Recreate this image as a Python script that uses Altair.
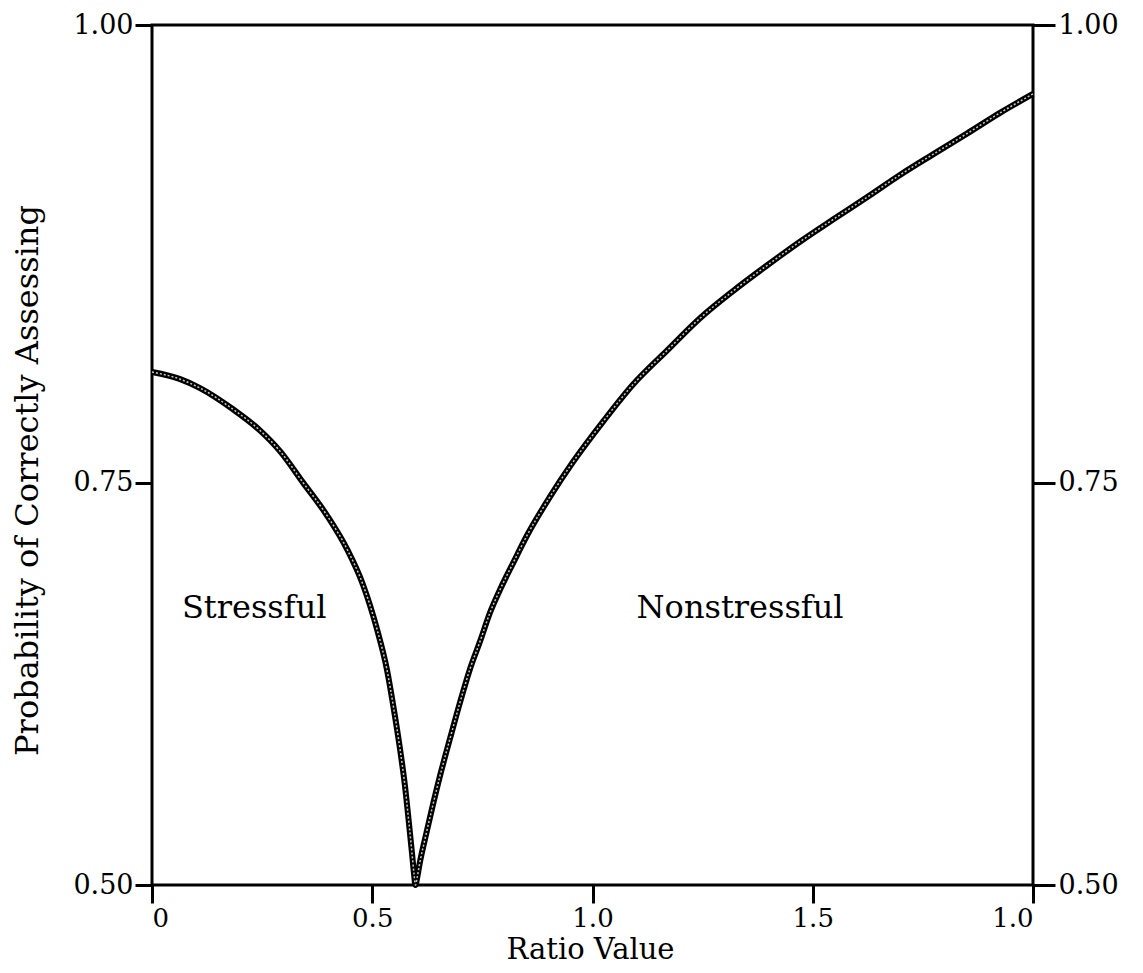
import altair as alt
import pandas as pd

# ---- data ----
ratio = [0.000, 0.064, 0.109, 0.184, 0.245, 0.291, 0.343, 0.397, 0.443, 0.479,
         0.511, 0.533, 0.549, 0.563, 0.574, 0.583, 0.590, 0.595, 0.598,
         0.602, 0.608, 0.620, 0.636, 0.654, 0.677, 0.699, 0.722, 0.745, 0.767,
         0.790, 0.820, 0.851, 0.904, 0.956, 1.024, 1.092, 1.169, 1.244, 1.319,
         1.396, 1.471, 1.546, 1.623, 1.698, 1.773, 1.850, 1.925, 2.000]
prob = [0.813, 0.809, 0.804, 0.792, 0.780, 0.768, 0.750, 0.731, 0.711, 0.690,
        0.663, 0.639, 0.614, 0.589, 0.566, 0.542, 0.522, 0.507, 0.500,
        0.505, 0.515, 0.531, 0.551, 0.572, 0.596, 0.618, 0.639, 0.656, 0.673,
        0.687, 0.703, 0.719, 0.742, 0.762, 0.785, 0.806, 0.825, 0.843, 0.858,
        0.872, 0.885, 0.897, 0.909, 0.921, 0.932, 0.943, 0.954, 0.964]

x_ticks = [0, 0.5, 1.0, 1.5, 2.0]
x_tick_labels = ["0", "0.5", "1.0", "1.5", "1.0"]
y_ticks = [0.5, 0.75, 1.0]

ann_text = ["Stressful", "Nonstressful"]
ann_x = [0.232, 1.335]
ann_y = [0.670, 0.670]

curve = pd.DataFrame({"ratio": ratio, "prob": prob})
ann = pd.DataFrame({"label": ann_text, "ratio": ann_x, "prob": ann_y})

FONT = "DejaVu Serif"

label_expr = "[{}][indexof([{}], datum.value)]".format(
    ",".join("'%s'" % s for s in x_tick_labels),
    ",".join(str(v) for v in x_ticks),
)

yscale = alt.Scale(type="pow", exponent=1.38, domain=[0.5, 1.0], nice=False, zero=False)
xscale = alt.Scale(domain=[0, 2], nice=False, zero=False)

x_enc = alt.X(
    "ratio:Q",
    scale=xscale,
    axis=alt.Axis(
        values=x_ticks, labelExpr=label_expr, orient="bottom",
        tickSize=18, tickWidth=3, tickColor="black", domain=False, grid=False,
        labelFont=FONT, labelFontSize=26, labelColor="black", labelPadding=2,
        title="Ratio Value", titleFont=FONT, titleFontSize=29, titleFontWeight="normal",
        titleColor="black", titleX=438, titleY=73, titleAlign="center",
        titleBaseline="alphabetic",
    ),
)

outer = alt.Chart(curve).mark_line(color="black", strokeWidth=6, interpolate="monotone").encode(
    x=x_enc,
    y=alt.Y(
        "prob:Q", scale=yscale,
        axis=alt.Axis(
            values=y_ticks, format=".2f", orient="left",
            tickSize=17, tickWidth=3, tickColor="black", domain=False, grid=False,
            labelFont=FONT, labelFontSize=27, labelColor="black", labelPadding=2,
            title="Probability of Correctly Assessing", titleFont=FONT, titleFontSize=32,
            titleFontWeight="normal", titleColor="black", titleAngle=270,
            titleX=-125, titleY=455, titleAlign="center", titleBaseline="middle",
        ),
    ),
)

inner = alt.Chart(curve).mark_line(color="#c8c8c8", strokeWidth=1.5, strokeDash=[2, 2],
                                    interpolate="monotone").encode(
    x=x_enc,
    y=alt.Y(
        "prob:Q", scale=yscale,
        axis=alt.Axis(
            values=y_ticks, format=".2f", orient="right",
            tickSize=22, tickWidth=3, tickColor="black", domain=False, grid=False,
            labelFont=FONT, labelFontSize=27, labelColor="black", labelPadding=3,
            title="",
        ),
    ),
)

labels = alt.Chart(ann).mark_text(font=FONT, fontSize=32, color="black", align="center",
                                  baseline="alphabetic").encode(
    x=x_enc,
    y=alt.Y("prob:Q", scale=yscale, axis=None),
    text="label:N",
)

chart = alt.layer(outer, inner, labels).resolve_scale(y="independent").properties(
    width=881, height=860,
    autosize=alt.AutoSizeParams(type="none"),
    padding={"left": 144, "top": 17, "right": 100, "bottom": 80},
    background="white",
).configure_view(stroke="black", strokeWidth=3)

chart.save("out.html", embed_options={"renderer": "svg", "actions": False})
